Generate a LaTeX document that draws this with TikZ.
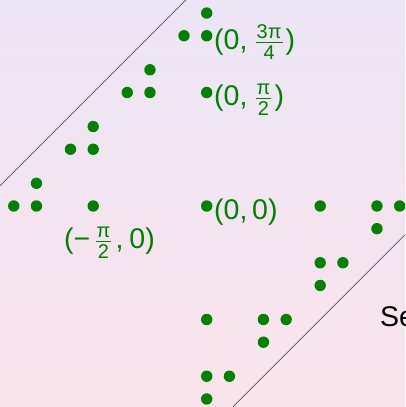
\RequirePackage{fix-cm}
\documentclass[tikz,border=0pt]{standalone}
\usepackage{amsmath}
\usepackage{fontspec}
\setmainfont{Liberation Sans}
\usetikzlibrary{calc}
\definecolor{dotgreen}{RGB}{0,128,0}
\definecolor{bgtop}{RGB}{236,229,246}
\definecolor{bgbot}{RGB}{250,228,235}
\newcommand{\tfr}[2]{\genfrac{}{}{1.2pt}{}{\kern1pt\text{#1}\kern1pt}{\text{#2}}}
\begin{document}
\begin{tikzpicture}[x=22.7pt,y=22.7pt,
  dot/.style={circle,fill=dotgreen,inner sep=0pt,minimum size=11.4pt},
  lbl/.style={text=dotgreen,inner sep=0pt,anchor=base west,font=\fontsize{28.5}{34}\selectfont},
  dline/.style={draw=black!80,line width=0.6pt}]
\useasboundingbox (-9.106,-8.855) rectangle (8.736,9.075);
\clip (-9.106,-8.855) rectangle (8.736,9.075);
\shade[top color=bgtop,bottom color=bgbot] (-9.106,-8.855) rectangle (8.736,9.075);
\coordinate (a1) at (-10,0); \coordinate (a2) at (0,10);
\coordinate (b1) at (10,0); \coordinate (b2) at (0,-10);
\draw[dline] (a1) -- (a2);
\draw[dline] (b1) -- (b2);
\foreach \n/\x/\y in {1/0/8.5, 2/-1/7.5, 3/0/7.5, 4/-2.5/6, 5/-3.5/5, 6/-2.5/5,
  7/0/5, 8/-5/3.5, 9/-6/2.5, 10/-5/2.5, 11/-7.5/1, 12/-8.5/0, 13/-7.5/0,
  14/-5/0, 15/0/0, 16/5/0, 17/7.5/0, 18/8.5/0, 19/7.5/-1, 20/5/-2.5,
  21/6/-2.5, 22/5/-3.5, 23/0/-5, 24/2.5/-5, 25/3.5/-5, 26/2.5/-6,
  27/0/-7.5, 28/1/-7.5, 29/0/-8.5}
  \node[dot] (d\n) at (\x,\y) {};
\node[lbl] (l1) at ($(d3)+(7.3pt,-13.5pt)$) {(0,\hspace{7pt}$\tfr{3π}{4}$\hspace{2pt})};
\node[lbl] (l2) at ($(d7)+(7.3pt,-13.5pt)$) {(0,\hspace{7pt}$\tfr{π}{2}$\hspace{2pt})};
\node[lbl] (l3) at ($(d15)+(7.3pt,-13.5pt)$) {(0,\,0)};
\node[lbl] (l4) at ($(d14)+(-29.2pt,-43pt)$) {(−\hspace{4pt}$\tfr{π}{2}$\hspace{3pt},\hspace{6pt}0)};
\node[lbl,text=black] (se) at (7.634,-5.308) {Se};
\end{tikzpicture}
\end{document}
